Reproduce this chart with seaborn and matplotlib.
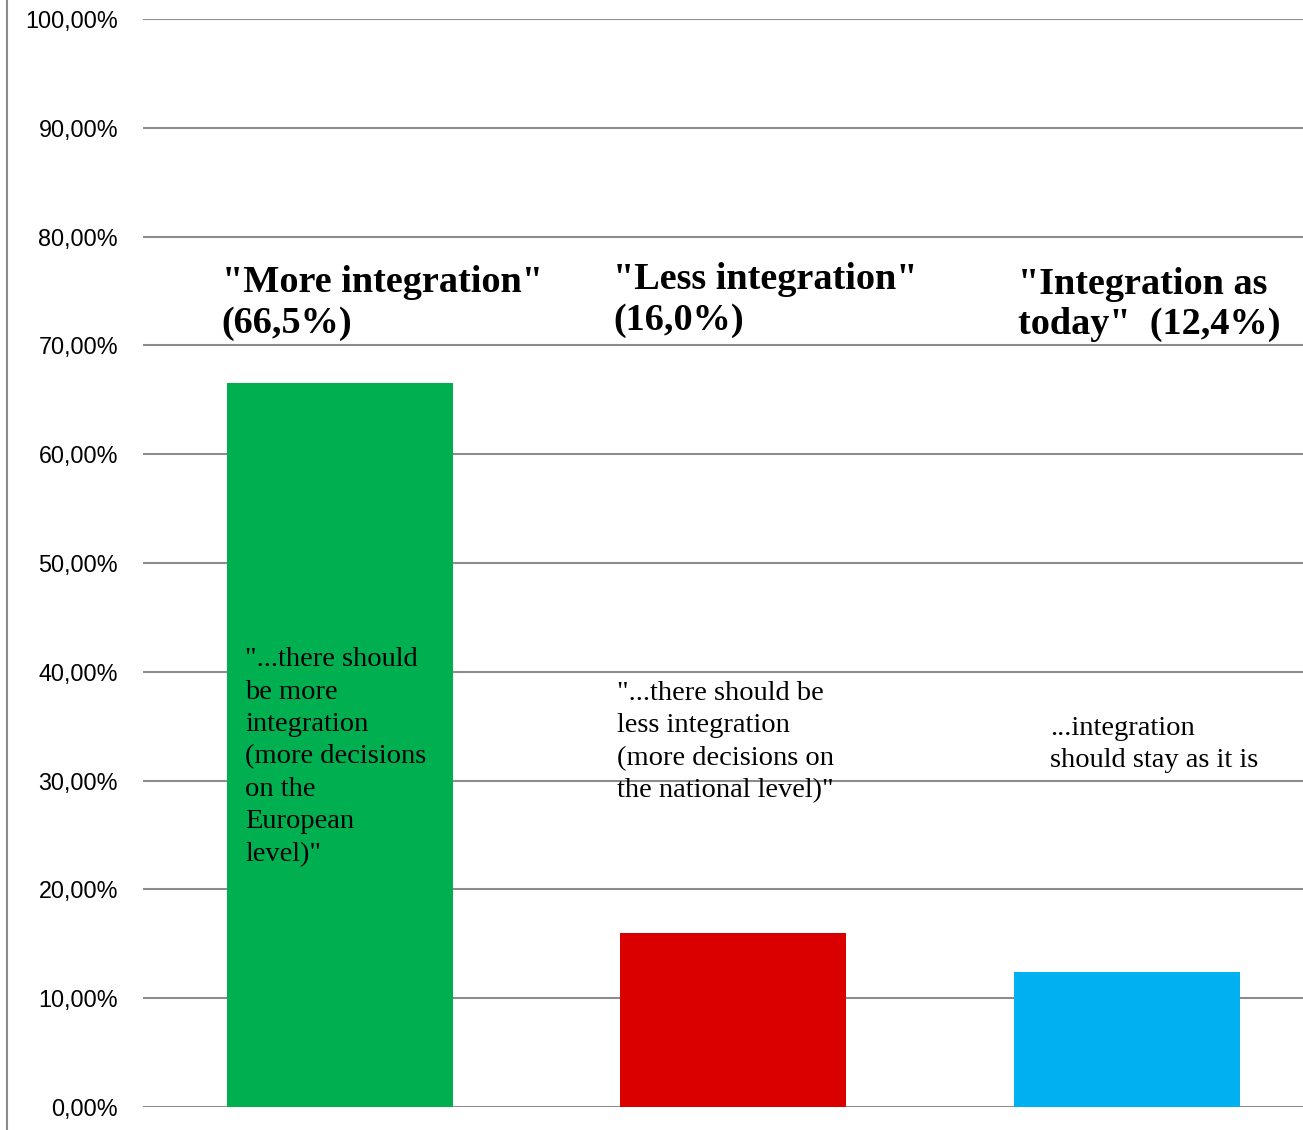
#!/usr/bin/env python3
import matplotlib
matplotlib.use("Agg")
import matplotlib.pyplot as plt
import seaborn as sns
import pandas as pd
from matplotlib.lines import Line2D
from matplotlib.ticker import FuncFormatter

categories = ["More integration", "Less integration", "Integration as today"]
values = [66.5, 16.0, 12.4]
colors = ["#00AF50", "#DB0000", "#00B0F0"]

headers = [
    '"More integration"\n(66,5%)',
    '"Less integration"\n(16,0%)',
    '"Integration as\ntoday"  (12,4%)',
]
descriptions = [
    '"...there should\nbe more\nintegration\n(more decisions\non the\nEuropean\nlevel)"',
    '"...there should be\nless integration\n(more decisions on\nthe national level)"',
    '...integration\nshould stay as it is',
]
# text anchors (x offset from bar centre, y in percent)
header_pos = [(-0.30, 77.35), (-0.305, 77.65), (-0.277, 77.25)]
desc_pos = [(-0.24, 42.25), (-0.295, 39.15), (-0.195, 35.95)]

sns.set_style("white")
fig = plt.figure(figsize=(13.03, 11.3), dpi=100)
ax = fig.add_axes([143 / 1303, 23 / 1130, 1 - 143 / 1303, 1088 / 1130])

df = pd.DataFrame({"cat": categories, "val": values})
sns.barplot(data=df, x="cat", y="val", hue="cat", palette=colors,
            width=0.574, legend=False, ax=ax, saturation=1, linewidth=0)

ax.set_xlim(-0.5, 2.447)
ax.set_ylim(0, 100)
ax.set_yticks(range(0, 101, 10))
ax.yaxis.set_major_formatter(FuncFormatter(lambda v, p: f"{v:.2f}%".replace(".", ",")))
ax.set_xticks([])
ax.set_xlabel("")
ax.set_ylabel("")
ax.tick_params(axis="y", length=0, pad=18, labelsize=16.8, labelcolor="black")
for lbl in ax.get_yticklabels():
    lbl.set_family("Liberation Sans")
ax.grid(axis="y", color="#8c8c8c", linewidth=1.5)
ax.set_axisbelow(True)
for s in ax.spines.values():
    s.set_visible(False)

for i in range(3):
    hx, hy = header_pos[i]
    ax.text(i + hx, hy, headers[i], family="Liberation Serif", weight="bold",
            fontsize=27.5, va="top", ha="left", linespacing=1.2, color="black")
    dx, dy = desc_pos[i]
    ax.text(i + dx, dy, descriptions[i], family="Liberation Serif",
            fontsize=20.5, va="top", ha="left", linespacing=1.39, color="black")

fig.add_artist(Line2D([7 / 1303, 7 / 1303], [0, 1], color="#8c8c8c", linewidth=1.5))

fig.savefig("out.png", dpi=100)
